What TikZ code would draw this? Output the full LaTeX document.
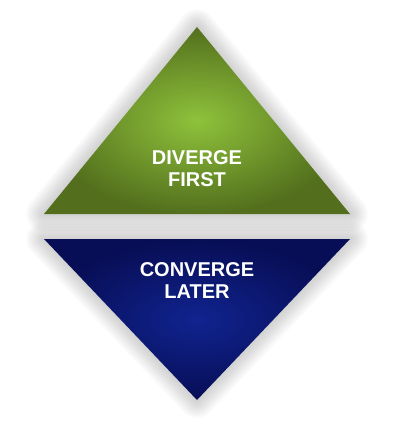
\documentclass[tikz,border=0pt]{standalone}
\usepackage{fontspec}
\setmainfont{Liberation Sans}
\usetikzlibrary{calc}
\definecolor{leafhi}{HTML}{8EC23B}
\definecolor{leafdk}{HTML}{536F1D}
\definecolor{navyhi}{HTML}{10238F}
\definecolor{navydk}{HTML}{080E55}
\tikzset{
  glow/.style={draw=black, draw opacity=0.015, line width=#1, line join=round},
  wedge/.style={inner color=#1hi, outer color=#1dk},
  lbl/.style={text=white, font=\bfseries\fontsize{20}{22}\selectfont, align=center},
}

\begin{document}
\begin{tikzpicture}[x=1pt,y=-1pt]
  \useasboundingbox (0,0) rectangle (401,428);
  \coordinate (ga) at (197,27);
  \coordinate (gl) at (44,214);
  \coordinate (gr) at (350,214);
  \coordinate (bl) at (44,239);
  \coordinate (br) at (350,239);
  \coordinate (ba) at (197,400);

  % soft shadow
  \foreach \w in {3,6,...,36} {
    \draw[glow=\w pt] (ga) -- (gl) -- (gr) -- cycle;
    \draw[glow=\w pt] (bl) -- (br) -- (ba) -- cycle;
  }

  \shade[wedge=leaf] (ga) -- (gl) -- (gr) -- cycle;
  \shade[wedge=navy] (bl) -- (br) -- (ba) -- cycle;

  \node[lbl] (diverge) at (197,168.5) {DIVERGE\\FIRST};
  \node[lbl] (converge) at (197,281) {CONVERGE\\LATER};
\end{tikzpicture}
\end{document}
